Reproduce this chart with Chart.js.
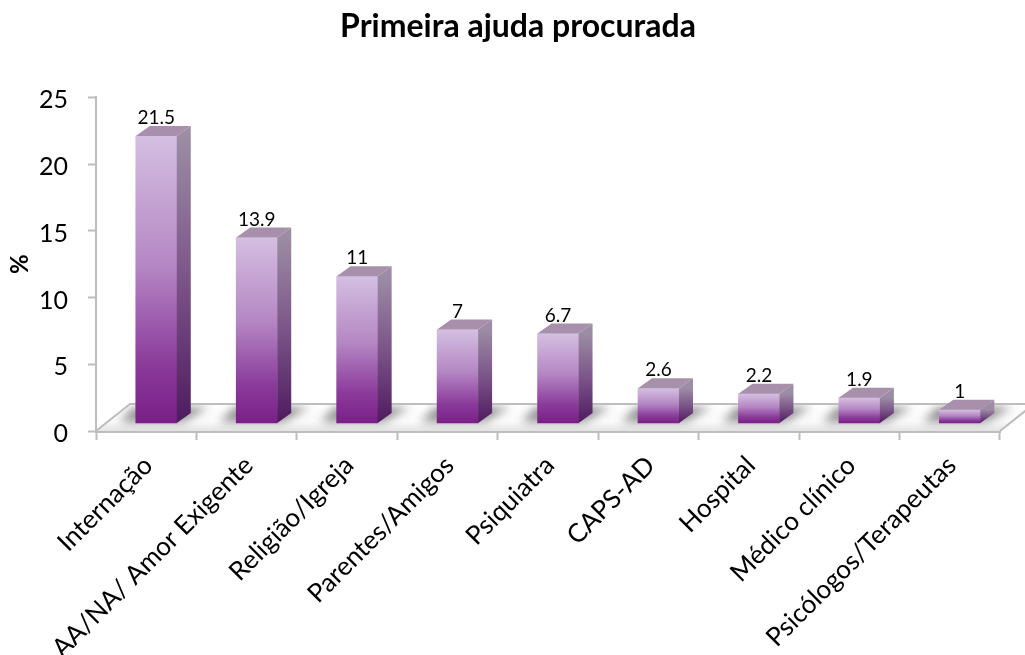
<!DOCTYPE html>
<html lang="pt">
<head>
<meta charset="utf-8">
<title>Primeira ajuda procurada</title>
<script src="https://cdn.jsdelivr.net/npm/chart.js@4/dist/chart.umd.js"></script>
<style>
    html, body { margin: 0; padding: 0; background: #fff; overflow: hidden; }
    canvas { display: block; }
</style>
</head>
<body>
<canvas id="myChart" width="1025" height="655"></canvas>
<script>
const categories = ['Internação', 'AA/NA/ Amor Exigente', 'Religião/Igreja', 'Parentes/Amigos', 'Psiquiatra', 'CAPS-AD', 'Hospital', 'Médico clínico', 'Psicólogos/Terapeutas'];
const values = [21.5, 13.9, 11, 7, 6.7, 2.6, 2.2, 1.9, 1];
const valueLabels = ['21.5', '13.9', '11', '7', '6.7', '2.6', '2.2', '1.9', '1'];

const fontName = 'Lato';
const gridColor = '#bdbdbd';

// offset of the bar's back face and of the floor's back edge
const barDepth = { x: 14, y: -10 };
const floorDepth = { x: 34, y: -27 };

function frontGradient(ctx, top, bottom) {
    const g = ctx.createLinearGradient(0, top, 0, bottom);
    g.addColorStop(0, '#d4bfe1');
    g.addColorStop(0.45, '#b587c4');
    g.addColorStop(0.8, '#8a3a9a');
    g.addColorStop(1, '#7a1f88');
    return g;
}

function sideGradient(ctx, top, bottom) {
    const g = ctx.createLinearGradient(0, top, 0, bottom);
    g.addColorStop(0, '#9c8ca4');
    g.addColorStop(0.5, '#7b5488');
    g.addColorStop(1, '#4f1a60');
    return g;
}

// floor of the 3D box and the soft shadows the bars throw on it
const floorPlugin = {
    id: 'floor',
    beforeDatasetsDraw(chart) {
        const { ctx, chartArea } = chart;
        const left = chartArea.left, right = chartArea.right, bottom = chartArea.bottom;
        const backY = bottom + floorDepth.y;

        function floorPath() {
            ctx.beginPath();
            ctx.moveTo(left, bottom);
            ctx.lineTo(right, bottom);
            ctx.lineTo(right + floorDepth.x, backY);
            ctx.lineTo(left + floorDepth.x, backY);
            ctx.closePath();
        }

        ctx.save();
        floorPath();
        const fill = ctx.createLinearGradient(0, backY, 0, bottom);
        fill.addColorStop(0, '#ffffff');
        fill.addColorStop(0.65, '#fafafa');
        fill.addColorStop(1, '#e4e4e4');
        ctx.fillStyle = fill;
        ctx.fill();

        ctx.save();
        floorPath();
        ctx.clip();
        ctx.filter = 'blur(5px)';
        ctx.fillStyle = 'rgba(40, 40, 40, 0.5)';
        chart.getDatasetMeta(0).data.forEach(function(bar) {
            const barLeft = bar.x - bar.width / 2;
            const barRight = bar.x + bar.width / 2;
            const base = bar.base;
            ctx.beginPath();
            ctx.moveTo(barLeft - 16, base - 1);
            ctx.lineTo(barRight + 6, base - 1);
            ctx.lineTo(barRight + 32, backY + 3);
            ctx.lineTo(barLeft - 2, backY + 3);
            ctx.closePath();
            ctx.fill();
        });
        ctx.restore();

        ctx.strokeStyle = gridColor;
        ctx.lineWidth = 2;
        ctx.beginPath();
        ctx.moveTo(left, bottom);
        ctx.lineTo(left + floorDepth.x, backY);
        ctx.lineTo(right + floorDepth.x, backY);
        ctx.moveTo(right, bottom);
        ctx.lineTo(right + floorDepth.x, backY);
        ctx.stroke();
        ctx.restore();
    }
};

// top and side faces of each bar, then the value above it
const barFacesPlugin = {
    id: 'barFaces',
    afterDatasetsDraw(chart) {
        const ctx = chart.ctx;
        ctx.save();
        chart.getDatasetMeta(0).data.forEach(function(bar, i) {
            const l = bar.x - bar.width / 2;
            const r = bar.x + bar.width / 2;

            ctx.fillStyle = sideGradient(ctx, bar.y, bar.base);
            ctx.beginPath();
            ctx.moveTo(r, bar.y);
            ctx.lineTo(r + barDepth.x, bar.y + barDepth.y);
            ctx.lineTo(r + barDepth.x, bar.base + barDepth.y);
            ctx.lineTo(r, bar.base);
            ctx.closePath();
            ctx.fill();

            ctx.fillStyle = '#a88fab';
            ctx.beginPath();
            ctx.moveTo(l, bar.y);
            ctx.lineTo(l + barDepth.x, bar.y + barDepth.y);
            ctx.lineTo(r + barDepth.x, bar.y + barDepth.y);
            ctx.lineTo(r, bar.y);
            ctx.closePath();
            ctx.fill();

            ctx.fillStyle = '#000';
            ctx.font = '19px ' + fontName;
            ctx.textAlign = 'center';
            ctx.textBaseline = 'alphabetic';
            ctx.fillText(valueLabels[i], bar.x, bar.y - 12);
        });
        ctx.restore();
    }
};

const ctx = document.getElementById('myChart');
const myChart = new Chart(ctx, {
    type: 'bar',
    data: {
        labels: categories,
        datasets: [{
            label: '%',
            data: values.map((v, i) => ({ x: i, y: v })),
            xAxisID: 'xBars',
            yAxisID: 'yBars',
            barThickness: 41,
            backgroundColor: function(context) {
                const scale = context.chart.scales.yBars;
                const top = scale ? scale.getPixelForValue(values[context.dataIndex]) : NaN;
                const bottom = scale ? scale.getPixelForValue(0) : NaN;
                if (!Number.isFinite(top) || !Number.isFinite(bottom)) {
                    return '#8a3a9a';
                }
                return frontGradient(context.chart.ctx, top, bottom);
            }
        }]
    },
    plugins: [floorPlugin, barFacesPlugin],
    options: {
        responsive: false,
        animation: false,
        layout: { padding: { left: 11 } },
        plugins: {
            legend: { display: false },
            tooltip: { enabled: false },
            title: {
                display: true,
                text: 'Primeira ajuda procurada',
                color: '#000',
                font: { family: fontName, size: 32, weight: 'bold' },
                padding: { top: 7, bottom: 52 }
            }
        },
        scales: {
            x: {
                type: 'category',
                labels: categories,
                offset: true,
                afterFit: function(scale) { scale.height = 224; },
                border: { color: gridColor, width: 3 },
                grid: { offset: true, drawOnChartArea: false, color: gridColor, tickLength: 9, tickWidth: 2 },
                ticks: {
                    color: '#000',
                    font: { family: fontName, size: 26 },
                    minRotation: 45,
                    maxRotation: 45,
                    autoSkip: false,
                    labelOffset: 2,
                    padding: 10
                }
            },
            // bars stand slightly inside the floor, so they get their own hidden scales
            xBars: {
                type: 'linear',
                display: false,
                offset: false,
                min: -0.6,
                max: 8.4
            },
            y: {
                min: 0,
                max: 25,
                afterFit: function(scale) { scale.width = 85; },
                border: { color: gridColor, width: 2 },
                grid: { drawOnChartArea: false, color: gridColor, tickLength: 8, tickWidth: 2 },
                ticks: {
                    stepSize: 5,
                    color: '#000',
                    padding: 20,
                    labelOffset: 3,
                    font: { family: fontName, size: 25 }
                },
                title: {
                    display: true,
                    text: '%',
                    color: '#000',
                    padding: 0,
                    font: { family: fontName, size: 24, weight: 'bold', lineHeight: 0.8 }
                }
            },
            yBars: {
                position: 'right',
                min: -0.6,
                max: 24.4,
                afterFit: function(scale) { scale.width = 25; },
                border: { display: false },
                grid: { display: false },
                ticks: { display: false }
            }
        }
    }
});
</script>
</body>
</html>
